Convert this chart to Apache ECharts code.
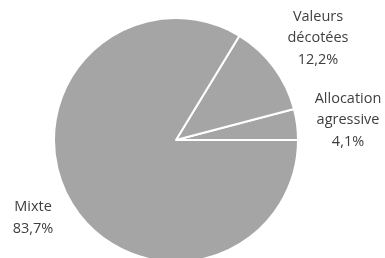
<!DOCTYPE html>
<html>
<head>
<meta charset="utf-8">
<script src="https://cdn.jsdelivr.net/npm/echarts@6/dist/echarts.min.js"></script>
<style>
  html, body { margin: 0; padding: 0; background: #fff; }
  #chart { width: 385px; height: 258px; }
</style>
</head>
<body>
<div id="chart"></div>
<script>
// données : sens anti-horaire depuis 3 h
var categories = ['Allocation\nagressive', 'Valeurs\ndécotées', 'Mixte'];
var values = [4.1, 12.2, 83.7];

// position du centre des étiquettes (comme dans le graphique Excel)
var labelPos = [[348, 120], [318, 38], [33, 218]];

var chart = echarts.init(document.getElementById('chart'));

var pieData = [];
for (var i = 0; i < categories.length; i++) {
    pieData.push({ name: categories[i], value: values[i] });
}

chart.setOption({
    animation: false,
    series: [{
        type: 'pie',
        center: [176, 140],
        radius: 122,
        startAngle: 0,
        clockwise: false,
        avoidLabelOverlap: false,
        data: pieData,
        itemStyle: {
            color: '#a5a5a5',
            borderColor: '#ffffff',
            borderWidth: 2
        },
        label: {
            show: true,
            position: 'outside',
            alignTo: 'none',
            overflow: 'none',
            formatter: function (p) {
                return p.name + '\n' + p.value.toFixed(1).replace('.', ',') + '%';
            },
            fontFamily: 'Open Sans',
            fontSize: 14.5,
            lineHeight: 21.5,
            color: '#3f3f3f',
            align: 'center'
        },
        labelLine: { show: false },
        labelLayout: function (params) {
            var pos = labelPos[params.dataIndex];
            return {
                x: pos[0],
                y: pos[1],
                align: 'center',
                verticalAlign: 'middle'
            };
        }
    }]
});
</script>
</body>
</html>
